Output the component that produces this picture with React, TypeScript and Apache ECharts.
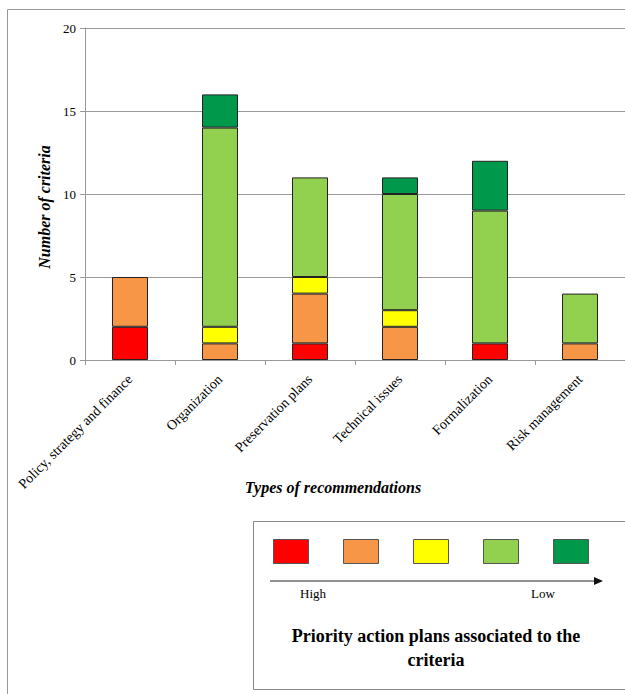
import React, { useEffect, useRef } from "react";
import * as echarts from "echarts";

const categories = [
  "Policy, strategy and finance",
  "Organization",
  "Preservation plans",
  "Technical issues",
  "Formalization",
  "Risk management",
];
const priorityNames = ["Very high", "High", "Medium", "Low", "Very low"];
const priorityColors = ["#FF0000", "#F79646", "#FFFF00", "#92D050", "#00994C"];
const veryHigh = [2, 0, 1, 0, 1, 0];
const high = [3, 1, 3, 2, 0, 1];
const medium = [0, 1, 1, 1, 0, 0];
const low = [0, 12, 6, 7, 8, 3];
const veryLow = [0, 2, 0, 1, 3, 0];
const yTicks = [0, 5, 10, 15, 20];

const SERIF = "Times New Roman, Liberation Serif, DejaVu Serif, serif";

export default function App() {
  const ref = useRef<HTMLDivElement>(null);
  useEffect(() => {
    if (!ref.current) return;
    const chart = echarts.init(ref.current, null, { renderer: "svg" });
    const allSeries = [veryHigh, high, medium, low, veryLow];
    const legendX = [273, 343, 413, 483, 553];
    chart.setOption({
      animation: false,
      backgroundColor: "#ffffff",
      textStyle: { fontFamily: SERIF },
      grid: { left: 85, top: 28, width: 540, height: 332, containLabel: false },
      xAxis: {
        type: "category",
        data: categories,
        axisLine: { lineStyle: { color: "#999999", width: 1 } },
        axisTick: { show: true, length: 5, lineStyle: { color: "#999999" } },
        axisLabel: {
          rotate: 45,
          interval: 0,
          margin: 17,
          fontFamily: SERIF,
          fontSize: 14,
          color: "#000000",
        },
      },
      yAxis: {
        type: "value",
        min: yTicks[0],
        max: yTicks[yTicks.length - 1],
        interval: 5,
        axisLine: { show: true, lineStyle: { color: "#999999", width: 1 } },
        axisTick: { show: true, length: 5, lineStyle: { color: "#999999" } },
        splitLine: { show: true, lineStyle: { color: "#999999", width: 1 } },
        axisLabel: {
          margin: 9,
          fontFamily: SERIF,
          fontSize: 13,
          color: "#000000",
        },
      },
      series: allSeries.map((arr, i) => ({
        name: priorityNames[i],
        type: "bar",
        stack: "total",
        barWidth: "40%",
        data: arr.map((v) => (v === 0 ? "-" : v)),
        itemStyle: {
          color: priorityColors[i],
          borderColor: "#222222",
          borderWidth: 1,
        },
      })),
      graphic: [
        {
          type: "rect",
          shape: { x: 7.5, y: 9.5, width: 640, height: 700 },
          style: { fill: "none", stroke: "#999999", lineWidth: 1 },
          silent: true,
        },
        {
          type: "text",
          x: 44,
          y: 207,
          rotation: Math.PI / 2,
          style: {
            text: "Number of criteria",
            fontFamily: SERIF,
            fontSize: 16,
            fontStyle: "italic",
            fontWeight: "bold",
            fill: "#000000",
            align: "center",
            verticalAlign: "middle",
          },
        },
        {
          type: "text",
          x: 333,
          y: 487,
          style: {
            text: "Types of recommendations",
            fontFamily: SERIF,
            fontSize: 16,
            fontStyle: "italic",
            fontWeight: "bold",
            fill: "#000000",
            align: "center",
            verticalAlign: "middle",
          },
        },
        {
          type: "rect",
          shape: { x: 253.5, y: 521.5, width: 375, height: 168 },
          style: { fill: "#ffffff", stroke: "#888888", lineWidth: 1 },
        },
        ...legendX.map((x, i) => ({
          type: "rect",
          shape: { x: x + 0.5, y: 539.5, width: 35, height: 24 },
          style: { fill: priorityColors[i], stroke: "#555555", lineWidth: 1 },
        })),
        {
          type: "line",
          shape: { x1: 270, y1: 581, x2: 596, y2: 581 },
          style: { stroke: "#222222", lineWidth: 1.2 },
        },
        {
          type: "polygon",
          shape: { points: [[594, 577], [603, 581], [594, 585]] },
          style: { fill: "#111111" },
        },
        {
          type: "text",
          x: 313,
          y: 593,
          style: {
            text: "High",
            fontFamily: SERIF,
            fontSize: 13,
            fill: "#000000",
            align: "center",
            verticalAlign: "middle",
          },
        },
        {
          type: "text",
          x: 543,
          y: 593,
          style: {
            text: "Low",
            fontFamily: SERIF,
            fontSize: 13,
            fill: "#000000",
            align: "center",
            verticalAlign: "middle",
          },
        },
        {
          type: "text",
          x: 436,
          y: 636,
          style: {
            text: "Priority action plans associated to the",
            fontFamily: SERIF,
            fontSize: 18,
            fontWeight: "bold",
            fill: "#000000",
            align: "center",
            verticalAlign: "middle",
          },
        },
        {
          type: "text",
          x: 436,
          y: 660,
          style: {
            text: "criteria",
            fontFamily: SERIF,
            fontSize: 18,
            fontWeight: "bold",
            fill: "#000000",
            align: "center",
            verticalAlign: "middle",
          },
        },
      ],
    });
    return () => chart.dispose();
  }, []);
  return (
    <div
      ref={ref}
      style={{ position: "absolute", left: 0, top: 0, width: 625, height: 694 }}
    />
  );
}
